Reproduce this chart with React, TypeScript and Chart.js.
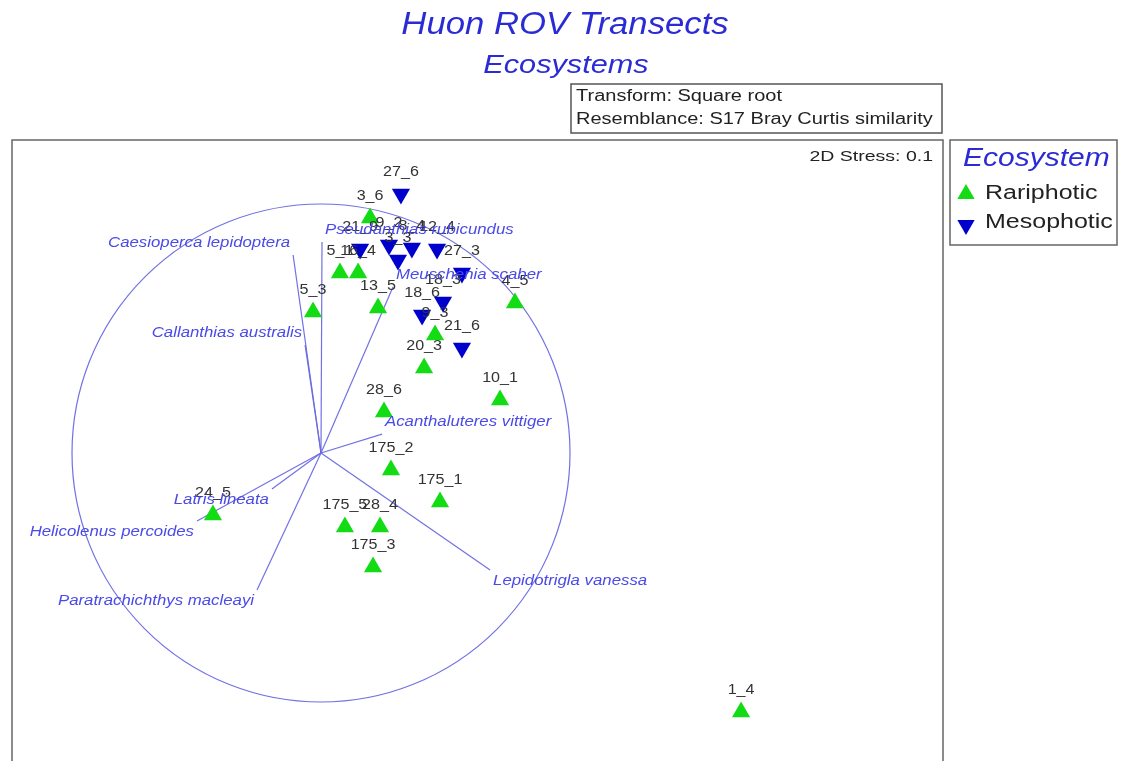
import React, { useEffect, useRef } from "react";
import { Chart, registerables } from "chart.js";

Chart.register(...registerables);

// MDS ordination points (plot units; vector circle has radius 1)
const rariphotic = [
  { label: "3_6", x: 0.197, y: 0.944 },
  { label: "5_1", x: 0.076, y: 0.723 },
  { label: "16_4", x: 0.149, y: 0.723 },
  { label: "5_3", x: -0.032, y: 0.566 },
  { label: "13_5", x: 0.229, y: 0.582 },
  { label: "4_5", x: 0.779, y: 0.602 },
  { label: "9_3", x: 0.458, y: 0.474 },
  { label: "20_3", x: 0.414, y: 0.341 },
  { label: "10_1", x: 0.719, y: 0.213 },
  { label: "28_6", x: 0.253, y: 0.165 },
  { label: "175_2", x: 0.281, y: -0.068 },
  { label: "175_1", x: 0.478, y: -0.197 },
  { label: "175_5", x: 0.096, y: -0.297 },
  { label: "28_4", x: 0.237, y: -0.297 },
  { label: "175_3", x: 0.209, y: -0.458 },
  { label: "24_5", x: -0.434, y: -0.249 },
  { label: "1_4", x: 1.687, y: -1.04 },
];

const mesophotic = [
  { label: "27_6", x: 0.321, y: 1.04 },
  { label: "21_9", x: 0.157, y: 0.819 },
  { label: "9_2", x: 0.273, y: 0.835 },
  { label: "3_3", x: 0.309, y: 0.775 },
  { label: "8_4", x: 0.365, y: 0.823 },
  { label: "12_4", x: 0.466, y: 0.819 },
  { label: "27_3", x: 0.566, y: 0.723 },
  { label: "18_3", x: 0.49, y: 0.606 },
  { label: "18_6", x: 0.406, y: 0.554 },
  { label: "21_6", x: 0.566, y: 0.422 },
];

// Species correlation vectors (end points; origin at 0,0)
const vectors = [
  { name: "Caesioperca lepidoptera", x: -0.112, y: 0.795 },
  { name: "Callanthias australis", x: -0.064, y: 0.434 },
  { name: "Pseudanthias rubicundus", x: 0.004, y: 0.847 },
  { name: "Meuschenia scaber", x: 0.289, y: 0.667 },
  { name: "Acanthaluteres vittiger", x: 0.245, y: 0.076 },
  { name: "Lepidotrigla vanessa", x: 0.679, y: -0.47 },
  { name: "Paratrachichthys macleayi", x: -0.257, y: -0.55 },
  { name: "Helicolenus percoides", x: -0.498, y: -0.273 },
  { name: "Latris lineata", x: -0.197, y: -0.145 },
];

const circleRadius = 1;
const titleText = "Huon ROV Transects";
const subtitleText = "Ecosystems";
const infoLines = ["Transform: Square root", "Resemblance: S17 Bray Curtis similarity"];
const stressText = "2D Stress: 0.1";
const legendTitle = "Ecosystem";
const seriesNames = ["Rariphotic", "Mesophotic"];

const GREEN = "#14dc14";
const BLUE = "#0000cc";
const VEC = "rgba(105,105,225,0.95)";
const VEC_TEXT = "#4a4ae8";
const FONT = "'Liberation Sans', Arial, sans-serif";

function drawText(
  ctx: CanvasRenderingContext2D,
  s: string,
  x: number,
  y: number,
  font: string,
  color: string,
  align: "left" | "right" | "center",
  sx: number
) {
  ctx.save();
  ctx.font = font;
  ctx.fillStyle = color;
  ctx.textBaseline = "middle";
  ctx.textAlign = "left";
  const w = ctx.measureText(s).width * sx;
  const x0 = align === "left" ? x : align === "right" ? x - w : x - w / 2;
  ctx.translate(x0, y);
  ctx.scale(sx, 1);
  ctx.fillText(s, 0, 0);
  ctx.restore();
}

function tri(ctx: CanvasRenderingContext2D, x: number, y: number, r: number, down: boolean, color: string) {
  ctx.save();
  ctx.fillStyle = color;
  ctx.beginPath();
  const d = down ? -1 : 1;
  ctx.moveTo(x, y - d * r);
  ctx.lineTo(x + r * 0.866, y + d * r * 0.5);
  ctx.lineTo(x - r * 0.866, y + d * r * 0.5);
  ctx.closePath();
  ctx.fill();
  ctx.restore();
}

const decorPlugin = {
  id: "decor",
  beforeDatasetsDraw(chart: any) {
    const ctx = chart.ctx as CanvasRenderingContext2D;
    const xs = chart.scales.x;
    const ys = chart.scales.y;
    const a = chart.chartArea;
    const cx = xs.getPixelForValue(0);
    const cy = ys.getPixelForValue(0);
    const r = xs.getPixelForValue(circleRadius) - cx;
    ctx.save();
    ctx.beginPath();
    ctx.rect(a.left, a.top, a.right - a.left, a.bottom - a.top);
    ctx.clip();
    ctx.strokeStyle = VEC;
    ctx.lineWidth = 1.2;
    ctx.beginPath();
    ctx.arc(cx, cy, r, 0, Math.PI * 2);
    ctx.stroke();
    ctx.restore();
  },
  afterDatasetsDraw(chart: any) {
    const ctx = chart.ctx as CanvasRenderingContext2D;
    const xs = chart.scales.x;
    const ys = chart.scales.y;
    const a = chart.chartArea;
    const W = chart.width;

    // point labels
    const lf = `14px ${FONT}`;
    [...rariphotic, ...mesophotic].forEach((p) => {
      const px = xs.getPixelForValue(p.x);
      const py = ys.getPixelForValue(p.y);
      drawText(ctx, p.label, px, py - 22, lf, "#333333", "center", 1.15);
    });

    // vector labels
    const vf = `italic 14px ${FONT}`;
    vectors.forEach((v) => {
      const px = xs.getPixelForValue(v.x);
      const py = ys.getPixelForValue(v.y);
      const align = v.x < 0 ? "right" : "left";
      const dx = v.x < 0 ? -3 : 3;
      const dy = v.y >= 0 ? -12 : 11;
      drawText(ctx, v.name, px + dx, py + dy, vf, VEC_TEXT, align, 1.2);
    });

    // plot frame
    ctx.save();
    ctx.strokeStyle = "#666666";
    ctx.lineWidth = 1.5;
    ctx.strokeRect(a.left, a.top, a.right - a.left, a.bottom - a.top + 4);
    ctx.restore();

    // stress
    drawText(ctx, stressText, a.right - 10, a.top + 17, `15px ${FONT}`, "#222222", "right", 1.3);

    // titles
    drawText(ctx, titleText, W / 2 + 4, 25, `italic 31px ${FONT}`, "#2b2bd6", "center", 1.12);
    drawText(ctx, subtitleText, W / 2 + 5, 66, `italic 26px ${FONT}`, "#2b2bd6", "center", 1.18);

    // info box
    const bx = 571, by = 84, bw = 371, bh = 49;
    ctx.save();
    ctx.strokeStyle = "#555555";
    ctx.lineWidth = 1.5;
    ctx.strokeRect(bx, by, bw, bh);
    ctx.restore();
    drawText(ctx, infoLines[0], bx + 5, by + 13, `16px ${FONT}`, "#222222", "left", 1.25);
    drawText(ctx, infoLines[1], bx + 5, by + 36, `16px ${FONT}`, "#222222", "left", 1.25);

    // legend
    const lx = a.right + 7, ly = a.top, lw = 167, lh = 105;
    ctx.save();
    ctx.strokeStyle = "#666666";
    ctx.lineWidth = 1.5;
    ctx.strokeRect(lx, ly, lw, lh);
    ctx.restore();
    drawText(ctx, legendTitle, lx + 13, ly + 19, `italic 25px ${FONT}`, "#2b2bd6", "left", 1.2);
    tri(ctx, lx + 16, ly + 54, 10, false, GREEN);
    drawText(ctx, seriesNames[0], lx + 35, ly + 53, `20px ${FONT}`, "#222222", "left", 1.25);
    tri(ctx, lx + 16, ly + 85, 10, true, BLUE);
    drawText(ctx, seriesNames[1], lx + 35, ly + 82, `20px ${FONT}`, "#222222", "left", 1.25);
  },
};

export default function App() {
  const ref = useRef<HTMLCanvasElement | null>(null);
  useEffect(() => {
    if (!ref.current) return;
    const vectorSets = vectors.map((v) => ({
      label: v.name,
      data: [
        { x: 0, y: 0 },
        { x: v.x, y: v.y },
      ],
      showLine: true,
      borderColor: VEC,
      borderWidth: 1.2,
      pointRadius: 0,
      order: 3,
    }));
    const chart = new Chart(ref.current, {
      type: "scatter",
      data: {
        datasets: [
          ...vectorSets,
          {
            label: seriesNames[0],
            data: rariphotic.map((p) => ({ x: p.x, y: p.y })),
            pointStyle: "triangle",
            pointRadius: 10.5,
            pointBackgroundColor: GREEN,
            pointBorderColor: GREEN,
            pointBorderWidth: 0,
            order: 2,
          },
          {
            label: seriesNames[1],
            data: mesophotic.map((p) => ({ x: p.x, y: p.y })),
            pointStyle: "triangle",
            rotation: 180,
            pointRadius: 10.5,
            pointBackgroundColor: BLUE,
            pointBorderColor: BLUE,
            pointBorderWidth: 0,
            order: 1,
          } as any,
        ],
      },
      options: {
        responsive: false,
        animation: false,
        layout: { autoPadding: false, padding: { left: 12, top: 140, right: 179, bottom: 1 } },
        plugins: { legend: { display: false }, tooltip: { enabled: false }, title: { display: false } },
        scales: {
          x: { type: "linear", min: -1.241, max: 2.498, display: false },
          y: { type: "linear", min: -1.233, max: 1.257, display: false },
        },
      },
      plugins: [decorPlugin],
    });
    return () => chart.destroy();
  }, []);
  return (
    <div style={{ position: "fixed", left: 0, top: 0, width: 1122, height: 761, background: "#ffffff" }}>
      <canvas ref={ref} width={1122} height={761} style={{ display: "block" }} />
    </div>
  );
}
